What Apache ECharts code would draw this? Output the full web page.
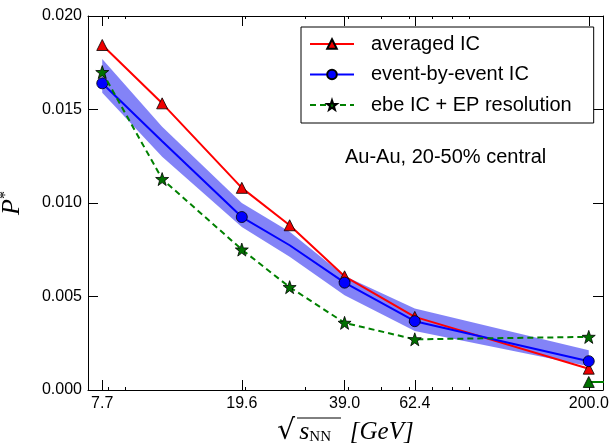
<!DOCTYPE html>
<html>
<head>
<meta charset="utf-8">
<script src="https://cdn.jsdelivr.net/npm/echarts@6/dist/echarts.min.js"></script>
<style>html,body{margin:0;padding:0;background:#fff}#c{width:613px;height:444px}</style>
</head>
<body>
<div id="c"></div>
<script>
// ---- data ----
var energies = [7.7, 11.5, 19.6, 27, 39, 62.4, 200];
var averagedIC = [0.01845, 0.01533, 0.01081, 0.00881, 0.00608, 0.00391, 0.00114];
var ebeIC = [0.01640, 0.01330, 0.00925, 0.00774, 0.00574, 0.00368, 0.00154];
var ebeMarkerShown = [true, false, true, false, true, true, true];
var bandUpper = [0.01770, 0.01408, 0.01000, 0.00846, 0.00610, 0.00436, 0.00212];
var bandLower = [0.01590, 0.01247, 0.00872, 0.00712, 0.00507, 0.00316, 0.00127];
var ebeEP = [0.01700, 0.01128, 0.00751, 0.00550, 0.00359, 0.00271, 0.00284];
var extraX = [200, 400];
var extraY = [0.00043, 0.00043];
var xTickVals = [7.7, 19.6, 39.0, 62.4, 200.0];
var xTickLabels = ['7.7', '19.6', '39.0', '62.4', '200.0'];
var xMinorVals = [8, 9, 20, 30, 40, 50, 60, 70, 80, 90];

function pairs(xs, ys) { return xs.map(function (x, i) { return [x, ys[i]]; }); }

var chart = echarts.init(document.getElementById('c'), null, {renderer: 'canvas'});
var font = 'Liberation Sans, Arial, sans-serif';
var serif = 'Liberation Serif, DejaVu Serif, serif';

function xAx(pos, vals, len, labels, line) {
  return {
    type: 'log', min: 7, max: 220, position: pos,
    axisLine: {show: line, lineStyle: {color: '#000', width: 1}},
    axisTick: {show: true, inside: true, length: len, customValues: vals, lineStyle: {color: '#000', width: 1}},
    axisLabel: labels ? {
      show: true, customValues: xTickVals, margin: 6, fontSize: 16, fontFamily: font, color: '#000',
      formatter: function (v) {
        for (var i = 0; i < xTickVals.length; i++) if (Math.abs(xTickVals[i] - v) < 1e-6) return xTickLabels[i];
        return '';
      }
    } : {show: false},
    splitLine: {show: false}, minorTick: {show: false}, minorSplitLine: {show: false}
  };
}

var xAxes = [
  xAx('bottom', xTickVals, 10, true, true),
  xAx('bottom', xMinorVals, 3, false, false),
  xAx('top', xTickVals, 10, false, true),
  xAx('top', xMinorVals, 3, false, false)
];
xAxes[0].name = '{sq|√}{s|s}{sub|NN}{g|   [GeV]}';
xAxes[0].nameLocation = 'middle';
xAxes[0].nameGap = 28;
xAxes[0].nameTextStyle = {
  color: '#000',
  rich: {
    sq: {fontSize: 28, fontFamily: 'DejaVu Sans', color: '#000', padding: [0, 4, 0, 0]},
    s: {fontSize: 26, fontFamily: serif, fontStyle: 'italic', color: '#000'},
    sub: {fontSize: 15, fontFamily: serif, color: '#000', padding: [10, 0, 0, 0]},
    g: {fontSize: 25, fontFamily: serif, fontStyle: 'italic', color: '#000'}
  }
};

var option = {
  backgroundColor: '#fff',
  animation: false,
  grid: {left: 88, right: 10, top: 16, bottom: 54, containLabel: false, outerBoundsMode: 'none'},
  xAxis: xAxes,
  yAxis: [
    {
      type: 'value', min: 0, max: 0.02, interval: 0.005, position: 'left',
      name: '{p|P}{st|*}', nameLocation: 'middle', nameGap: 62,
      nameTextStyle: {rich: {
        p: {fontSize: 26, fontFamily: serif, fontStyle: 'italic', color: '#000'},
        st: {fontSize: 16, fontFamily: serif, color: '#000', padding: [0, 0, 12, 0]}
      }},
      axisLine: {show: true, lineStyle: {color: '#000', width: 1}},
      axisTick: {show: true, inside: true, length: 10, lineStyle: {color: '#000'}},
      axisLabel: {fontSize: 16, fontFamily: font, color: '#000', margin: 6,
        formatter: function (v) { return v.toFixed(3); }},
      splitLine: {show: false}
    },
    {
      type: 'value', min: 0, max: 0.02, interval: 0.005, position: 'right',
      axisLine: {show: true, lineStyle: {color: '#000', width: 1}},
      axisTick: {show: true, inside: true, length: 10, lineStyle: {color: '#000'}},
      axisLabel: {show: false}, splitLine: {show: false}
    }
  ],
  legend: {
    data: ['averaged IC', 'event-by-event IC', 'ebe IC + EP resolution'],
    orient: 'vertical', left: 301, top: 27,
    padding: [7, 22, 8, 8],
    itemWidth: 44, itemHeight: 12, itemGap: 10.5,
    borderColor: '#000', borderWidth: 1, borderRadius: 0, backgroundColor: '#fff',
    textStyle: {fontSize: 20, fontFamily: font, color: '#000', lineHeight: 20, padding: [0, 0, 0, 12]}
  },
  graphic: [
    {type: 'text', left: 345, top: 147, z: 10, style: {text: 'Au-Au, 20-50% central', fontSize: 20, fontFamily: font, fill: '#000'}},
    {type: 'line', z: 10, shape: {x1: 297, y1: 418, x2: 341, y2: 418}, style: {stroke: '#000', lineWidth: 1}}
  ],
  series: [
    {
      name: 'band', type: 'custom', silent: true, z: 1,
      data: energies.map(function (x, i) { return [x, bandLower[i], bandUpper[i]]; }),
      encode: {x: 0, y: [1, 2]},
      renderItem: function (params, api) {
        if (params.dataIndex !== 0) return null;
        var pts = [];
        for (var i = 0; i < energies.length; i++) pts.push(api.coord([energies[i], bandUpper[i]]));
        for (var j = energies.length - 1; j >= 0; j--) pts.push(api.coord([energies[j], bandLower[j]]));
        return {type: 'polygon', shape: {points: pts}, style: {fill: 'rgba(20,20,240,0.53)'}};
      }
    },
    {
      name: 'averaged IC', type: 'line', data: pairs(energies, averagedIC),
      color: '#ff0000',
      lineStyle: {color: '#ff0000', width: 2},
      symbol: 'triangle', symbolSize: 11, showAllSymbol: true,
      itemStyle: {color: '#ee0000', borderColor: '#000', borderWidth: 0.8}, z: 3
    },
    {
      name: 'event-by-event IC', type: 'line',
      data: energies.map(function (x, i) {
        return ebeMarkerShown[i] ? [x, ebeIC[i]] : {value: [x, ebeIC[i]], symbol: 'none'};
      }),
      color: '#0000ff',
      lineStyle: {color: '#0000ff', width: 2},
      symbol: 'circle', symbolSize: 11, showAllSymbol: true,
      itemStyle: {color: '#0000ff', borderColor: '#000', borderWidth: 0.8}, z: 4
    },
    {
      name: 'ebe IC + EP resolution', type: 'line', data: pairs(energies, ebeEP),
      color: '#008000',
      lineStyle: {color: '#008000', width: 2, type: [6, 4]},
      symbol: 'path://M0,-10 L2.35,-3.24 L9.51,-3.09 L3.8,1.24 L5.88,8.09 L0,4 L-5.88,8.09 L-3.8,1.24 L-9.51,-3.09 L-2.35,-3.24 Z',
      symbolSize: 13, showAllSymbol: true,
      itemStyle: {color: '#007000', borderColor: '#000', borderWidth: 0.8}, z: 5
    },
    {
      name: 'extra', type: 'line', data: pairs(extraX, extraY),
      lineStyle: {color: '#008000', width: 2},
      symbol: 'triangle', symbolSize: 11, showAllSymbol: true,
      itemStyle: {color: '#007000', borderColor: '#000', borderWidth: 0.8}, z: 5
    }
  ]
};
chart.setOption(option);
</script>
</body>
</html>
